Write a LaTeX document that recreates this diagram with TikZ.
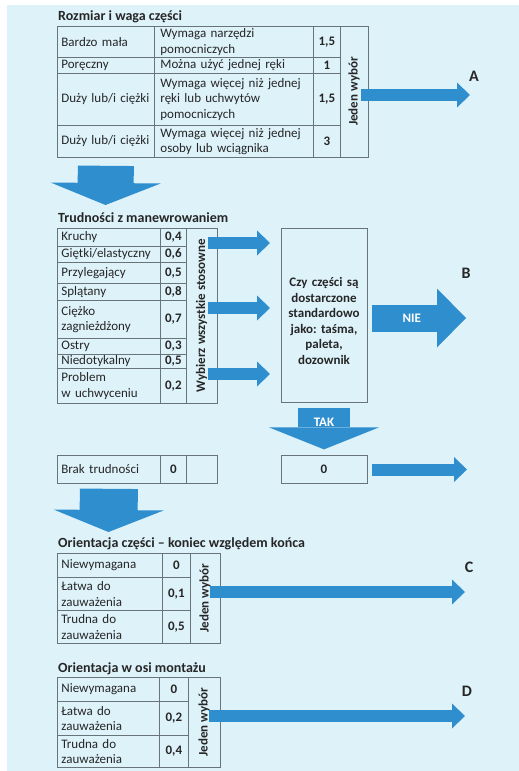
\documentclass[tikz,border=0pt]{standalone}
\usepackage{fontspec}
\setmainfont{Carlito}
\usepackage{xcolor}
\usepackage{tikz}
\usetikzlibrary{positioning,arrows.meta}

\definecolor{bgblue}{HTML}{DEF2FA}
\definecolor{arrowblue}{HTML}{2E8ECE}
\definecolor{linegray}{HTML}{68737A}
\definecolor{textgray}{HTML}{262626}
\newcommand{\tabfont}{\fontsize{13}{15.5}\selectfont}
\frenchspacing

\begin{document}
\begin{tikzpicture}[x=1pt,y=-1pt,
text=textgray,font=\tabfont,
cell/.style={draw=linegray,line width=.8pt,rectangle,anchor=north west,inner ysep=0pt},
txtcell/.style={cell,text width=#1,inner xsep=4pt,align=left},
desccell/.style={cell,text width=147pt,inner xsep=6pt,align=left},
numcell/.style={cell,minimum width=#1,inner sep=0pt,font=\tabfont\bfseries},
pickcell/.style={cell,anchor=center,rotate=90,inner sep=0pt,font=\tabfont\bfseries},
title/.style={anchor=base west,inner sep=0pt,font=\fontsize{14}{16}\selectfont\bfseries},
letter/.style={inner sep=0pt,anchor=south,font=\fontsize{16}{18}\selectfont\bfseries},
arrowtext/.style={text=white,inner sep=0pt,font=\tabfont\bfseries},
slimarrow/.style={draw=arrowblue,line width=12pt,-{Triangle[length=13pt,width=25pt,line width=0pt]}},
midarrow/.style={draw=arrowblue,line width=27pt,-{Triangle[length=29pt,width=59pt,line width=0pt]}},
fatarrow/.style={draw=arrowblue,line width=56pt,-{Triangle[length=22pt,width=110pt,line width=0pt]}}]
\useasboundingbox (0,0) rectangle (519,771);
\fill [bgblue] (7,5) rectangle (519,771);

% rozmiar i waga
\node (titSize) [title] at (58,20) {Rozmiar i waga części};
\node (sizeA) [txtcell=89pt,minimum height=31pt] at (57,26) {Bardzo mała};
\node (needA) [desccell,minimum height=31pt] at (154,26) {Wymaga narzędzi\\pomocniczych};
\node (ptsA) [numcell=27pt,minimum height=31pt] at (313,26) {1,5};
\node (sizeB) [txtcell=89pt,minimum height=16pt] at (57,57) {Poręczny};
\node (needB) [desccell,minimum height=16pt] at (154,57) {Można użyć jednej ręki};
\node (ptsB) [numcell=27pt,minimum height=16pt] at (313,57) {1};
\node (sizeC) [txtcell=89pt,minimum height=52pt] at (57,73) {Duży lub/i ciężki};
\node (needC) [desccell,minimum height=52pt] at (154,73) {Wymaga więcej niż jednej\\ręki lub uchwytów\\pomocniczych};
\node (ptsC) [numcell=27pt,minimum height=52pt] at (313,73) {1,5};
\node (sizeD) [txtcell=89pt,minimum height=32pt] at (57,125) {Duży lub/i ciężki};
\node (needD) [desccell,minimum height=32pt] at (154,125) {Wymaga więcej niż jednej\\osoby lub wciągnika};
\node (ptsD) [numcell=27pt,minimum height=32pt] at (313,125) {3};
\node (pickSize) [pickcell,minimum width=131pt,minimum height=28pt] at (354,91.5) {Jeden wybór};

\coordinate (endA) at (470,95);
\draw [slimarrow,shorten <=7pt] (pickSize.east |- endA) -- (endA);
\node (letA) [letter,above=13pt of endA,xshift=4pt] {A};

\coordinate (downA) at (105.5,205);
\draw [fatarrow,shorten <=8pt] (sizeD.south) -- (downA);

% manewrowanie
\node (titMove) [title] at (58,222) {Trudności z manewrowaniem};
\node (moveA) [txtcell=95pt,minimum height=18pt] at (57,228) {Kruchy};
\node (mptsA) [numcell=26pt,minimum height=18pt] at (160,228) {0,4};
\node (moveB) [txtcell=95pt,minimum height=16pt] at (57,246) {Giętki/elastyczny};
\node (mptsB) [numcell=26pt,minimum height=16pt] at (160,246) {0,6};
\node (moveC) [txtcell=95pt,minimum height=21pt] at (57,262) {Przylegający};
\node (mptsC) [numcell=26pt,minimum height=21pt] at (160,262) {0,5};
\node (moveD) [txtcell=95pt,minimum height=17pt] at (57,283) {Splątany};
\node (mptsD) [numcell=26pt,minimum height=17pt] at (160,283) {0,8};
\node (moveE) [txtcell=95pt,minimum height=38pt] at (57,300) {Ciężko\\zagnieżdżony};
\node (mptsE) [numcell=26pt,minimum height=38pt] at (160,300) {0,7};
\node (moveF) [txtcell=95pt,minimum height=16pt] at (57,338) {Ostry};
\node (mptsF) [numcell=26pt,minimum height=16pt] at (160,338) {0,3};
\node (moveG) [txtcell=95pt,minimum height=14pt] at (57,354) {Niedotykalny};
\node (mptsG) [numcell=26pt,minimum height=14pt] at (160,354) {0,5};
\node (moveH) [txtcell=95pt,minimum height=35pt] at (57,368) {Problem\\w uchwyceniu};
\node (mptsH) [numcell=26pt,minimum height=35pt] at (160,368) {0,2};
\node (pickMove) [pickcell,minimum width=175pt,minimum height=31pt] at (201.5,315.5) {Wybierz wszystkie stosowne};

\node (ask) [draw=linegray,line width=.8pt,minimum width=86pt,minimum height=174pt,
    text width=84pt,inner sep=1pt,align=center,font=\tabfont\bfseries] at (324,315)
    {\rule{0pt}{21pt}Czy części są\\dostarczone\\standardowo\\jako: taśma,\\paleta,\\dozownik};

\coordinate (inA) at (270,243);
\coordinate (inB) at (270,308);
\coordinate (inC) at (270,374);
\draw [slimarrow,shorten <=6pt] (pickMove.east |- inA) -- (inA);
\draw [slimarrow,shorten <=6pt] (pickMove.east |- inB) -- (inB);
\draw [slimarrow,shorten <=6pt] (pickMove.east |- inC) -- (inC);

\coordinate (endNie) at (466,318);
\draw [midarrow,shorten <=5pt] (ask.east |- endNie) -- node[pos=.45,arrowtext] {NIE} (endNie);
\node (letB) [letter,above=39pt of endNie] {B};

\node (zero) [draw=linegray,line width=.8pt,minimum width=86pt,minimum height=27.5pt,
    inner sep=0pt,font=\tabfont\bfseries] at (324,469.5) {0};
\draw [fatarrow,line width=52pt,shorten <=6pt,shorten >=6pt] (ask.south) -- node[pos=.37,arrowtext] {TAK} (zero.north);

\coordinate (endZero) at (467,469.5);
\draw [slimarrow,shorten <=5pt] (zero.east) -- (endZero);

\node (brakA) [txtcell=95pt,minimum height=28pt] at (57,455) {Brak trudności};
\node (brakB) [numcell=26pt,minimum height=28pt] at (160,455) {0};
\node (brakC) [cell,minimum width=31pt,minimum height=28pt] at (186,455) {};

\coordinate (downB) at (108.5,532);
\draw [fatarrow,line width=58pt,shorten <=5pt] (brakA.south) -- (downB);

% koniec wzgledem konca
\node (titEnd) [title] at (58,547) {Orientacja części – koniec względem końca};
\node (endOptA) [txtcell=97pt,minimum height=24pt] at (57,553) {Niewymagana};
\node (endPtsA) [numcell=28pt,minimum height=24pt] at (162,553) {0};
\node (endOptB) [txtcell=97pt,minimum height=33pt] at (57,577) {Łatwa do\\zauważenia};
\node (endPtsB) [numcell=28pt,minimum height=33pt] at (162,577) {0,1};
\node (endOptC) [txtcell=97pt,minimum height=33pt] at (57,610) {Trudna do\\zauważenia};
\node (endPtsC) [numcell=28pt,minimum height=33pt] at (162,610) {0,5};
\node (pickEnd) [pickcell,minimum width=90pt,minimum height=30pt] at (205,598) {Jeden wybór};

\coordinate (endC) at (465,592);
\draw [slimarrow,shorten <=5pt] (pickEnd.east |- endC) -- (endC);
\node (letC) [letter,above=19pt of endC,xshift=4pt] {C};

% os montazu
\node (titAxis) [title] at (58,672) {Orientacja w osi montażu};
\node (axisOptA) [txtcell=94pt,minimum height=24pt] at (57,677) {Niewymagana};
\node (axisPtsA) [numcell=29pt,minimum height=24pt] at (159,677) {0};
\node (axisOptB) [txtcell=94pt,minimum height=34pt] at (57,701) {Łatwa do\\zauważenia};
\node (axisPtsB) [numcell=29pt,minimum height=34pt] at (159,701) {0,2};
\node (axisOptC) [txtcell=94pt,minimum height=32pt] at (57,735) {Trudna do\\zauważenia};
\node (axisPtsC) [numcell=29pt,minimum height=32pt] at (159,735) {0,4};
\node (pickAxis) [pickcell,minimum width=90pt,minimum height=32pt] at (204,722) {Jeden wybór};

\coordinate (endD) at (465,716);
\draw [slimarrow,shorten <=5pt] (pickAxis.east |- endD) -- (endD);
\node (letD) [letter,above=19pt of endD,xshift=2pt] {D};
\end{tikzpicture}
\end{document}
